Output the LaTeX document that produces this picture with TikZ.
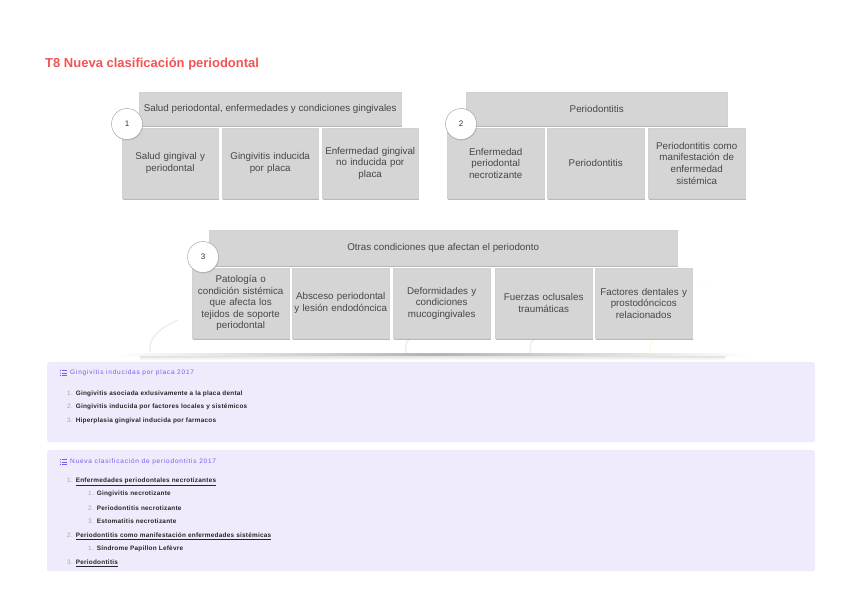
\documentclass[tikz,border=0pt]{standalone}
\usepackage{fontspec}
\setmainfont{Liberation Sans}
\newfontfamily\headfont[LetterSpace=12]{Liberation Sans}
\newfontfamily\listfont[LetterSpace=4]{Liberation Sans}
\usetikzlibrary{shadows}

\definecolor{titlered}{HTML}{F25454}
\definecolor{boxgray}{HTML}{D5D5D5}
\definecolor{panelbg}{HTML}{EFEBFC}
\definecolor{panelhead}{HTML}{7A5AF0}

\newcommand{\inum}[1]{\textcolor{black!35}{\mdseries #1}\hspace{3pt}}

\tikzset{
  hdrbox/.style={draw=black!18, fill=boxgray, text=black!72, anchor=north west,
    inner sep=0pt, font=\fontsize{9.8}{11.6}\selectfont,
    drop shadow={shadow xshift=1pt, shadow yshift=-1.5pt, opacity=.55}},
  subbox/.style={hdrbox, align=center, inner sep=1.5pt, minimum height=70pt},
  numcirc/.style={circle, draw=black!40, fill=white, minimum size=31pt, inner sep=0pt,
    font=\fontsize{8}{9}\selectfont, text=black!80,
    drop shadow={shadow xshift=.5pt, shadow yshift=-1pt, opacity=.25}},
  listhead/.style={anchor=west, inner sep=0pt, text=panelhead, font=\headfont\fontsize{6.5}{7}\selectfont},
  listitem/.style={anchor=west, inner sep=0pt, text=black!85, font=\listfont\bfseries\fontsize{6.4}{8}\selectfont},
  faint/.style={draw=black!8, line width=1.2pt}
}

\begin{document}
\begin{tikzpicture}[x=1pt, y=-1pt]
\useasboundingbox (0,0) rectangle (848,599);

% title
\node[anchor=base west, inner sep=0pt, text=titlered, font=\bfseries\fontsize{13}{15}\selectfont] (title) at (45,68) {T8 Nueva clasificación periodontal};

% faint background arcs
\draw[faint] (150,352) .. controls (148,338) and (160,328) .. (178,320);
\draw[faint] (408,356) .. controls (404,348) and (405,343) .. (410,338);
\draw[faint] (532,356) .. controls (528,348) and (530,343) .. (535,338);
\draw[draw=yellow!20, line width=1.2pt] (652,356) .. controls (648,348) and (650,343) .. (655,338);
\draw[draw=yellow!25, line width=1pt, dotted] (690,290) -- (712,281);

% group 1
\node[hdrbox, minimum width=262pt, minimum height=33pt] (h1) at (139,92) {Salud periodontal, enfermedades y condiciones gingivales};
\node[subbox, text width=93pt] (s11) at (122,128) {Salud gingival y\\periodontal};
\node[subbox, text width=93pt] (s12) at (222,128) {Gingivitis inducida\\por placa};
\node[subbox, text width=93pt] (s13) at (322,128) {Enfermedad gingival\\no inducida por\\placa};
\node[numcirc] (c1) at (127,124) {1};

% group 2
\node[hdrbox, minimum width=261pt, minimum height=33pt] (h2) at (466,92) {Periodontitis};
\node[subbox, text width=94pt] (s21) at (447,128) {Enfermedad\\periodontal\\necrotizante};
\node[subbox, text width=94pt] (s22) at (547,128) {Periodontitis};
\node[subbox, text width=94pt] (s23) at (648,128) {Periodontitis como\\manifestación de\\enfermedad\\sistémica};
\node[numcirc] (c2) at (461,124) {2};

% group 3
\node[hdrbox, minimum width=468pt, minimum height=35pt] (h3) at (209,230) {Otras condiciones que afectan el periodonto};
\node[subbox, text width=94pt] (s31) at (192,268) {Patología o\\condición sistémica\\que afecta los\\tejidos de soporte\\periodontal};
\node[subbox, text width=94pt] (s32) at (292,268) {Absceso periodontal\\y lesión endodóncica};
\node[subbox, text width=94pt] (s33) at (393,268) {Deformidades y\\condiciones\\mucogingivales};
\node[subbox, text width=94pt] (s34) at (495,268) {Fuerzas oclusales\\traumáticas};
\node[subbox, text width=94pt] (s35) at (595,268) {Factores dentales y\\prostodóncicos\\relacionados};
\node[numcirc] (c3) at (203,257) {3};

% shelf shadow
\shade[left color=white, right color=white, middle color=black!30] (115,353) rectangle (750,356.5);
\shade[top color=black!10, bottom color=white] (140,356.5) rectangle (725,360);

% list panels
\fill[panelbg, rounded corners=2pt] (47,362) rectangle (815,442);
\fill[panelbg, rounded corners=2pt] (47,450) rectangle (815,571);

\foreach \yy in {373,462} {
  \foreach \dy in {-2.5,0,2.5} {
    \fill[panelhead] (60.5,\yy+\dy) circle (.6pt);
    \draw[panelhead, line width=.6pt] (62,\yy+\dy) -- (67,\yy+\dy);
  }
}

\node[listhead] (l1h) at (70,373) {Gingivitis inducidas por placa 2017};
\node[listitem] (l1a) at (67,394) {\inum{1.}Gingivitis asociada exlusivamente a la placa dental};
\node[listitem] (l1b) at (67,407) {\inum{2.}Gingivitis inducida por factores locales y sistémicos};
\node[listitem] (l1c) at (67,421) {\inum{3.}Hiperplasia gingival inducida por farmacos};

\node[listhead] (l2h) at (70,462) {Nueva clasificación de periodontitis 2017};
\node[listitem] (l2a) at (67,482) {\inum{1.}\underline{Enfermedades periodontales necrotizantes}};
\node[listitem] (l2b) at (88,494) {\inum{1.}Gingivitis necrotizante};
\node[listitem] (l2c) at (88,508) {\inum{2.}Periodontitis necrotizante};
\node[listitem] (l2d) at (88,521) {\inum{3.}Estomatitis necrotizante};
\node[listitem] (l2e) at (67,536) {\inum{2.}\underline{Periodontitis como manifestación enfermedades sistémicas}};
\node[listitem] (l2f) at (88,549) {\inum{1.}Síndrome Papillon Lefèvre};
\node[listitem] (l2g) at (67,563) {\inum{3.}\underline{Periodontitis}};
\end{tikzpicture}
\end{document}
